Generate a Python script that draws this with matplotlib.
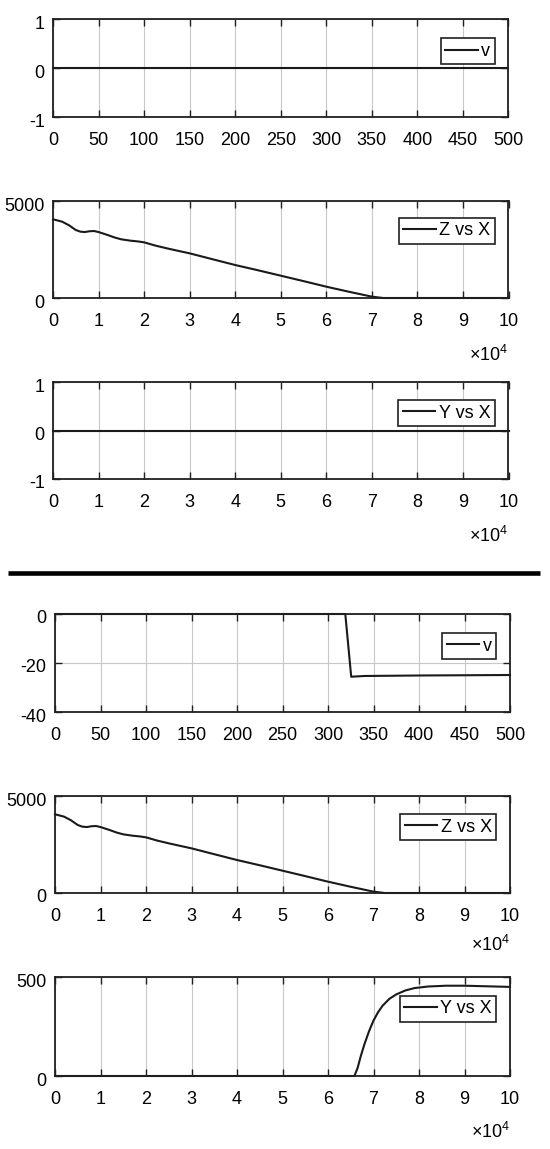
import matplotlib
matplotlib.use("Agg")
import matplotlib.pyplot as plt
from matplotlib import font_manager
from matplotlib.lines import Line2D
import matplotlib.transforms as mtrans

# ---------------- data ----------------
# top half
t_v1 = [0, 500]
v1 = [0, 0]

x_z = [0, 2000, 3500, 5000, 6000, 7000, 8000, 9000, 10000, 12000, 13500, 15000, 17000,
       18500, 20000, 22500, 25000, 27500, 30000, 35000, 40000, 45000, 50000, 55000,
       60000, 65000, 70000, 72500, 100000]
z1 = [4057, 3935, 3750, 3505, 3420, 3400, 3440, 3454, 3400, 3247, 3120, 3024, 2955,
      2920, 2869, 2700, 2560, 2430, 2302, 2000, 1700, 1430, 1150, 870,
      584, 320, 70, 0, 0]

x_y1 = [0, 100000]
y1 = [0, 0]

# bottom half
t_v2 = [0, 319, 325.5, 340, 400, 500]
v2 = [0, 0, -25.6, -25.3, -25.1, -24.9]

z2 = z1  # same trajectory in the lower Z vs X panel

x_y2 = [0, 65800, 66500, 67200, 68000, 69000, 70000, 71000, 72000, 73500, 75000,
        77000, 79000, 82000, 86000, 90000, 95000, 100000]
y2 = [0, 0, 40, 100, 160, 225, 280, 322, 355, 390, 412,
      432, 444, 452, 456, 456, 453, 450]

t_ticks = [0, 50, 100, 150, 200, 250, 300, 350, 400, 450, 500]
x_ticks = list(range(0, 11))

# ---------------- style ----------------
W, H = 550, 1149
try:
    font_manager.findfont("Liberation Sans Narrow", fallback_to_default=False)
    FAM = ["Liberation Sans Narrow", "DejaVu Sans"]
except Exception:
    FAM = ["Liberation Sans", "DejaVu Sans"]
plt.rcParams["font.family"] = FAM
FS = 13

fig = plt.figure(figsize=(W / 100, H / 100), dpi=100)
fig.patch.set_facecolor("white")


def make_ax(left, right, top, bottom):
    return fig.add_axes([left / W, 1 - bottom / H, (right - left) / W, (bottom - top) / H])


def style(ax, xlim, xt, ylim, yt, legend_label, leg_top, sci=None):
    ax.set_xlim(*xlim)
    ax.set_ylim(*ylim)
    ax.set_xticks(xt)
    ax.set_yticks(yt)
    ax.set_xticklabels([str(v) for v in xt])
    ax.set_yticklabels([str(v) for v in yt])
    ax.grid(True, color="#c8c8c8", linewidth=0.8)
    ax.set_axisbelow(True)
    for sp in ax.spines.values():
        sp.set_linewidth(1.3)
        sp.set_color("#202020")
    ax.tick_params(axis="both", direction="in", length=5, width=1.0, color="#202020",
                   top=True, right=True, labelsize=FS)
    ax.tick_params(axis="x", pad=10.5)
    ax.tick_params(axis="y", pad=6)
    off = mtrans.ScaledTranslation(0, -3 / 100, fig.dpi_scale_trans)
    for lab in ax.yaxis.get_majorticklabels():
        lab.set_transform(lab.get_transform() + off)
    leg = ax.legend([legend_label], loc="upper right", bbox_to_anchor=(0.970, leg_top),
                    borderaxespad=0, fontsize=FS, frameon=True, fancybox=False,
                    framealpha=1, edgecolor="#202020", handlelength=1.8,
                    handletextpad=0.2, borderpad=0.25)
    leg.get_frame().set_linewidth(1.2)
    if sci is not None:
        ax.text(1.0, sci, "×$\\mathregular{10^{4}}$", transform=ax.transAxes,
                ha="right", va="center", fontsize=FS)


LW = 1.5
LC = "#1a1a1a"

# top half: left 53 .. right 508.5
L1, R1 = 53, 508.5
ax1 = make_ax(L1, R1, 19.3, 117.3)
ax1.plot(t_v1, v1, color=LC, lw=LW, clip_on=False)
style(ax1, (0, 500), t_ticks, (-1, 1), [-1, 0, 1], "v", 0.806)

ax2 = make_ax(L1, R1, 201, 298)
ax2.plot([x / 1e4 for x in x_z], z1, color=LC, lw=LW, clip_on=False)
style(ax2, (0, 10), x_ticks, (0, 5000), [0, 5000], "Z vs X", 0.825, sci=-0.59)

ax3 = make_ax(L1, R1, 382, 479)
ax3.plot([x / 1e4 for x in x_y1], y1, color=LC, lw=LW, clip_on=False)
style(ax3, (0, 10), x_ticks, (-1, 1), [-1, 0, 1], "Y vs X", 0.814, sci=-0.59)

# separator
fig.add_artist(Line2D([8 / W, 540 / W], [1 - 573 / H, 1 - 573 / H],
                      transform=fig.transFigure, color="black", lw=3.3,
                      solid_capstyle="butt"))

# bottom half: left 55 .. right 510
L2, R2 = 55, 510
ax4 = make_ax(L2, R2, 614, 712)
ax4.plot(t_v2, v2, color=LC, lw=LW, clip_on=False)
style(ax4, (0, 500), t_ticks, (-40, 0), [-40, -20, 0], "v", 0.806)

ax5 = make_ax(L2, R2, 796, 893)
ax5.plot([x / 1e4 for x in x_z], z2, color=LC, lw=LW, clip_on=False)
style(ax5, (0, 10), x_ticks, (0, 5000), [0, 5000], "Z vs X", 0.814, sci=-0.54)

ax6 = make_ax(L2, R2, 977, 1076)
ax6.plot([x / 1e4 for x in x_y2], y2, color=LC, lw=LW, clip_on=False)
style(ax6, (0, 10), x_ticks, (0, 500), [0, 500], "Y vs X", 0.81, sci=-0.57)

fig.savefig("out.png", dpi=100, facecolor="white")
